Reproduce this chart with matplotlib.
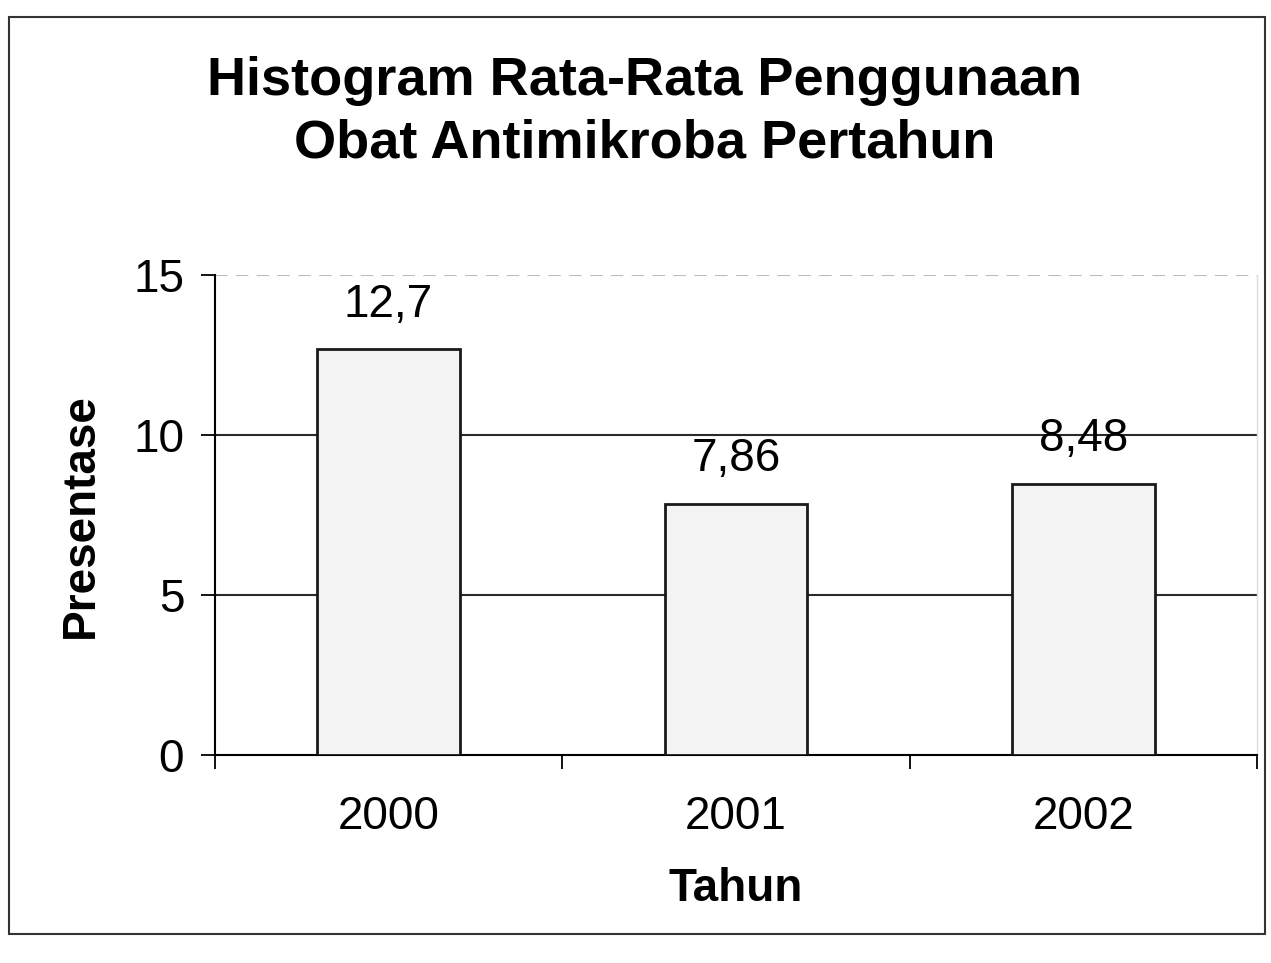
import matplotlib.pyplot as plt
from matplotlib.patches import Rectangle

plt.rcParams['font.family'] = ['Liberation Sans', 'DejaVu Sans']

years = ['2000', '2001', '2002']
persen = [12.7, 7.86, 8.48]
label_teks = ['12,7', '7,86', '8,48']

fig = plt.figure(figsize=(12.71, 9.63), dpi=100)
ax = fig.add_axes([0.169, 0.216, 0.82, 0.498])

# outer frame of the chart (scanned excel look)
fig.patches.append(Rectangle((0.007, 0.03), 0.988, 0.952, transform=fig.transFigure,
                             fill=False, edgecolor='#333333', linewidth=1.5))

x = range(len(years))
ax.bar(x, persen, width=0.41, color='#f3f3f3', edgecolor='#1a1a1a', linewidth=2, zorder=3)
for xi, v, t in zip(x, persen, label_teks):
    ax.text(xi, v + 0.7, t, ha='center', va='bottom', fontsize=33, zorder=4)

ax.set_xlim(-0.5, 2.5)
ax.set_ylim(0, 15)
ax.set_yticks([0, 5, 10, 15])
ax.set_xticks(list(x))
ax.set_xticklabels(years)
ax.set_xticks([-0.5, 0.5, 1.5, 2.5], minor=True)
ax.tick_params(axis='x', which='major', length=0, pad=29, labelsize=33)
ax.tick_params(axis='x', which='minor', length=10, width=1.3, direction='out')
ax.tick_params(axis='y', length=10, width=1.3, pad=12, labelsize=33)

for yv in [5, 10]:
    ax.axhline(yv, color='#2a2a2a', linewidth=1.5, zorder=1)
ax.axhline(15, color='#bbbbbb', linewidth=1.5, linestyle=(0, (6, 4)), zorder=1)

for s in ['top', 'right']:
    ax.spines[s].set_visible(False)
ax.spines['left'].set_linewidth(1.5)
ax.spines['bottom'].set_linewidth(1.5)
ax.plot([1, 1], [0, 1], transform=ax.transAxes, color='#dddddd', linewidth=1, clip_on=False)

ax.set_ylabel('Presentase', fontsize=33, fontweight='bold', labelpad=22)
ax.set_xlabel('Tahun', fontsize=33, fontweight='bold', labelpad=20)

fig.text(0.507, 0.883, 'Histogram Rata-Rata Penggunaan\nObat Antimikroba Pertahun',
         ha='center', va='center', fontsize=39, fontweight='bold', linespacing=1.32)

fig.savefig('out.png', dpi=100)
